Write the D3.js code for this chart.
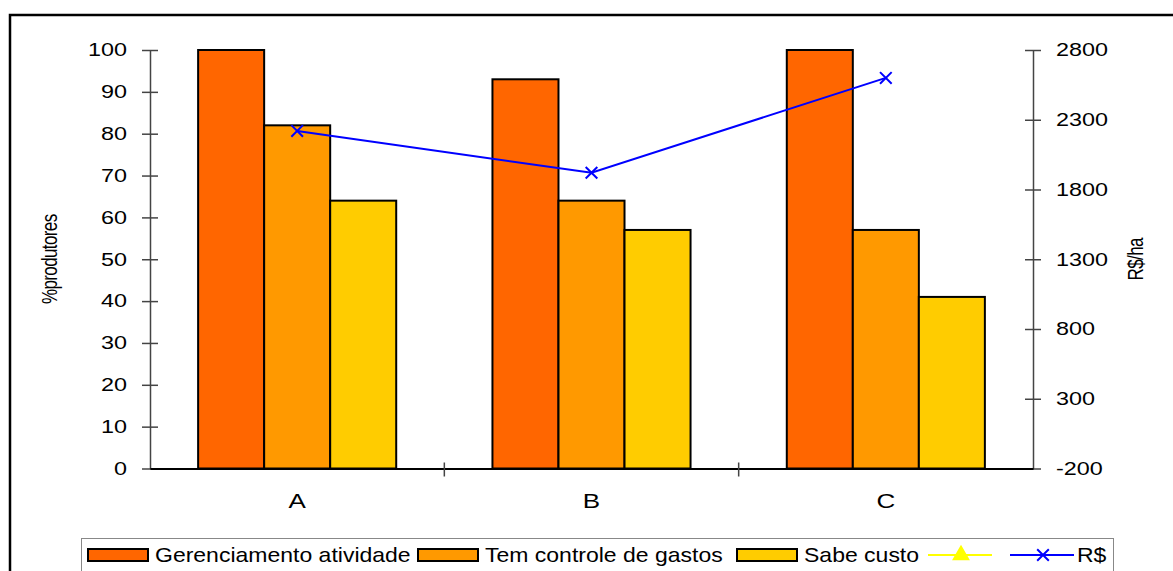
<!DOCTYPE html>
<html>
<head>
<meta charset="utf-8">
<script src="https://cdn.jsdelivr.net/npm/d3@7/dist/d3.min.js"></script>
<style>
  html, body { margin: 0; padding: 0; background: #fff; }
  svg { display: block; font-family: "Liberation Sans", Arial, sans-serif; }
</style>
</head>
<body>
<svg id="chart" width="1173" height="571"></svg>
<script>
// Categories and series
const categories = ["A", "B", "C"];
const barSeries = ["Gerenciamento atividade", "Tem controle de gastos", "Sabe custo"];
const gerenciamento = [100, 93, 100];
const controleGastos = [82, 64, 57];
const sabeCusto = [64, 57, 41];
const custoHa = [2220, 1920, 2600];   // R$/ha, right axis
const leftTicks = [0, 10, 20, 30, 40, 50, 60, 70, 80, 90, 100];
const rightTicks = [-200, 300, 800, 1300, 1800, 2300, 2800];

const barColors = ["#FF6600", "#FF9900", "#FFCC00"];
const barValues = [gerenciamento, controleGastos, sabeCusto];

const svg = d3.select("#chart");
const SX = 1.3; // horizontal glyph stretch for axis text

// outer frame
svg.append("rect")
  .attr("x", 10).attr("y", 15).attr("width", 1300).attr("height", 700)
  .attr("fill", "none").attr("stroke", "#000").attr("stroke-width", 2.5);

const plot = { left: 150, right: 1033, top: 50, bottom: 468.5 };

const x0 = d3.scaleBand().domain(categories).range([plot.left, plot.right]).padding(0);
const groupW = x0.bandwidth() * 0.673;
const x1 = d3.scaleBand().domain(barSeries).range([0, groupW]).padding(0);
const yL = d3.scaleLinear().domain([0, 100]).range([plot.bottom, plot.top]);
const yR = d3.scaleLinear().domain([-200, 2800]).range([plot.bottom, plot.top]);

// bars
categories.forEach((c, ci) => {
  const gx = x0(c) + (x0.bandwidth() - groupW) / 2;
  barSeries.forEach((s, si) => {
    const v = barValues[si][ci];
    svg.append("rect")
      .attr("x", gx + x1(s))
      .attr("y", yL(v))
      .attr("width", x1.bandwidth())
      .attr("height", yL(0) - yL(v))
      .attr("fill", barColors[si])
      .attr("stroke", "#000")
      .attr("stroke-width", 2);
  });
});

// axes
function styleAxis(g, side) {
  g.select(".domain").attr("stroke", "#444").attr("stroke-width", 1.5);
  g.selectAll(".tick line").remove();
  g.selectAll(".tick").append("line")
    .attr("x1", -8).attr("x2", 8)
    .attr("stroke", "#444").attr("stroke-width", 1.5);
  g.selectAll(".tick text")
    .attr("fill", "#000")
    .attr("font-size", 18)
    .attr("x", (side === "left" ? -23 : 23) / SX)
    .attr("transform", `scale(${SX},1)`);
}

const plainNum = d => String(d);

const gL = svg.append("g").attr("transform", `translate(${plot.left},0)`)
  .call(d3.axisLeft(yL).tickValues(leftTicks).tickSize(0).tickFormat(plainNum));
styleAxis(gL, "left");

const gR = svg.append("g").attr("transform", `translate(${plot.right},0)`)
  .call(d3.axisRight(yR).tickValues(rightTicks).tickSize(0).tickFormat(plainNum));
styleAxis(gR, "right");

const gX = svg.append("g").attr("transform", `translate(0,${plot.bottom})`)
  .call(d3.axisBottom(x0).tickSize(0).tickPadding(0));
gX.select(".domain").attr("stroke", "#000").attr("stroke-width", 2);
gX.selectAll(".tick text")
  .attr("fill", "#000").attr("font-size", 20)
  .attr("y", 40).attr("dy", 0)
  .attr("transform", `scale(${SX},1)`)
  .attr("x", 0);
// category separators
svg.append("g").selectAll("line")
  .data(categories.slice(1))
  .join("line")
  .attr("x1", d => x0(d)).attr("x2", d => x0(d))
  .attr("y1", plot.bottom - 6).attr("y2", plot.bottom + 8)
  .attr("stroke", "#444").attr("stroke-width", 1.5);

// axis titles
svg.append("text")
  .attr("transform", `translate(57,${(plot.top + plot.bottom) / 2}) scale(${SX},1) rotate(-90)`)
  .attr("text-anchor", "middle")
  .attr("font-size", 17)
  .attr("letter-spacing", -0.6)
  .text("%produtores");
svg.append("text")
  .attr("transform", `translate(1143,${(plot.top + plot.bottom) / 2}) scale(${SX},1) rotate(-90)`)
  .attr("text-anchor", "middle")
  .attr("font-size", 17)
  .attr("letter-spacing", -0.6)
  .text("R$/ha");

// R$ line
const cx = c => x0(c) + x0.bandwidth() / 2;
svg.append("path")
  .datum(custoHa)
  .attr("fill", "none").attr("stroke", "#0000FF").attr("stroke-width", 2)
  .attr("d", d3.line().x((d, i) => cx(categories[i])).y(d => yR(d)));
const cross = d3.symbol().type(d3.symbolX).size(90);
svg.append("g").selectAll("path")
  .data(custoHa)
  .join("path")
  .attr("transform", (d, i) => `translate(${cx(categories[i])},${yR(d)})`)
  .attr("d", cross)
  .attr("fill", "none").attr("stroke", "#0000FF").attr("stroke-width", 2);

// legend
const leg = svg.append("g");
leg.append("rect")
  .attr("x", 81.5).attr("y", 538.5).attr("width", 1032).attr("height", 60)
  .attr("fill", "#fff").attr("stroke", "#888").attr("stroke-width", 1);

const LSX = 1.15;
const legendItems = [
  { label: barSeries[0], kind: "bar", color: barColors[0], x: 88 },
  { label: barSeries[1], kind: "bar", color: barColors[1], x: 418 },
  { label: barSeries[2], kind: "bar", color: barColors[2], x: 737 },
  { label: "", kind: "tri", color: "#FFFF00", x: 928 },
  { label: "R$", kind: "x", color: "#0000FF", x: 1010 }
];
legendItems.forEach(it => {
  const g = leg.append("g").attr("transform", `translate(${it.x},0)`);
  let textX;
  if (it.kind === "bar") {
    g.append("rect").attr("x", 0).attr("y", 549).attr("width", 60).attr("height", 12)
      .attr("fill", it.color).attr("stroke", "#000").attr("stroke-width", 2);
    textX = 67;
  } else {
    g.append("line").attr("x1", 0).attr("x2", 64).attr("y1", 555).attr("y2", 555)
      .attr("stroke", it.color).attr("stroke-width", 2);
    const sym = it.kind === "tri"
      ? d3.symbol().type(d3.symbolTriangle).size(90)
      : d3.symbol().type(d3.symbolX).size(90);
    g.append("path").attr("transform", "translate(33,555)").attr("d", sym)
      .attr("fill", it.kind === "tri" ? it.color : "none")
      .attr("stroke", it.color).attr("stroke-width", 2);
    textX = 67;
  }
  if (it.label) {
    g.append("text")
      .attr("transform", `translate(${textX},562) scale(${LSX},1)`)
      .attr("font-size", 20)
      .attr("fill", "#000")
      .text(it.label);
  }
});
</script>
</body>
</html>
